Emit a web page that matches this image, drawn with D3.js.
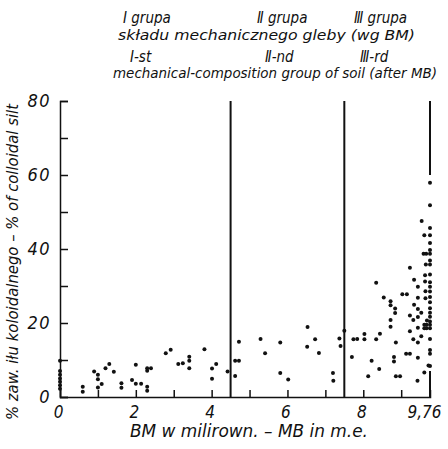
<!DOCTYPE html>
<html>
<head>
<meta charset="utf-8">
<script src="https://cdn.jsdelivr.net/npm/d3@7"></script>
<style>
  body { margin: 0; background: #fff; }
  text { font-family: "DejaVu Sans Condensed", "DejaVu Sans", sans-serif; font-style: italic; fill: #111; }
</style>
</head>
<body>
<svg width="448" height="449"></svg>
<script>
// BM (milirown.) for each sample
var bm = [
  0, 0, 0, 0, 0, 0, 0,
  0.6, 0.6, 0.9, 1.0, 1.0, 1.0, 1.1, 1.2, 1.3, 1.42, 1.62, 1.62, 1.9, 2.0, 2.0, 2.14,
  2.3, 2.3, 2.3, 2.3, 2.4, 2.79, 2.92, 3.12, 3.24, 3.41, 3.41, 3.41, 3.81, 4.01, 4.01, 4.12, 4.42,
  4.62, 4.62, 4.72, 4.72, 5.29, 5.41, 5.81, 5.81, 6.02, 6.53, 6.52, 6.73, 6.83, 7.2, 7.21, 7.37, 7.4, 7.5,
  7.7, 7.74, 7.84, 8.03, 8.03, 8.13, 8.22, 8.34, 8.34, 8.42, 8.44, 8.54, 8.72, 8.72, 8.84, 8.84, 8.72, 8.72,
  9.03, 9.15, 9.23, 9.34, 9.44, 9.44, 9.44, 9.53, 9.32, 9.44, 9.23, 9.44, 9.32, 9.44, 9.53, 8.86, 8.81, 8.81,
  9.13, 9.23, 9.44, 8.86, 8.97, 9.43, 9.61, 9.64, 9.64, 9.23, 9.34, 9.54, 9.61, 9.59, 9.66, 9.65, 9.63, 9.63,
  9.68, 9.61, 9.61, 9.67, 9.67, 9.72,
  9.76, 9.76, 9.76, 9.76, 9.76, 9.76, 9.76, 9.76, 9.76, 9.76, 9.76, 9.76, 9.76, 9.76, 9.76, 9.76, 9.76,
  9.76, 9.76, 9.76, 9.76, 9.76, 9.76, 9.76, 9.76
]
// % of colloidal silt for each sample
var silt = [
  9.8, 7.0, 6.0, 5.0, 4.1, 3.2, 2.2,
  2.8, 1.4, 6.9, 6.0, 4.8, 2.6, 3.5, 7.8, 8.9, 6.8, 3.7, 2.5, 4.6, 8.7, 3.6, 3.6,
  7.8, 7.1, 2.8, 1.7, 7.8, 11.8, 12.8, 8.9, 9.1, 10.9, 9.8, 7.8, 12.9, 7.7, 4.9, 8.9, 6.9,
  9.8, 5.7, 9.8, 14.9, 15.7, 11.8, 14.7, 6.5, 4.7, 18.9, 13.6, 15.6, 11.9, 6.5, 4.4, 15.8, 13.8, 17.9,
  10.8, 15.6, 15.7, 17.0, 15.6, 5.6, 9.8, 15.6, 30.9, 7.6, 17.1, 26.9, 25.9, 24.8, 23.9, 22.7, 20.8, 19.0,
  27.8, 27.8, 22.0, 24.9, 29.8, 26.8, 23.8, 22.8, 20.8, 21.6, 17.8, 18.7, 15.6, 14.7, 16.4, 14.7, 10.8, 9.6,
  11.7, 11.7, 10.6, 5.6, 5.6, 4.4, 6.6, 28.6, 26.7, 34.9, 31.7, 47.6, 43.7, 38.7, 38.7, 35.8, 32.9, 31.2,
  20.7, 19.5, 18.6, 19.5, 18.6, 8.5,
  57.9, 51.8, 45.7, 43.7, 41.6, 39.7, 38.7, 36.9, 35.8, 33.1, 31.0, 29.8, 28.5, 27.0, 25.6, 24.0, 22.8,
  21.7, 20.4, 19.5, 18.6, 15.7, 12.7, 11.7, 8.4
]
var groupBounds = [4.5, 7.5]
var xTicks = [0, 2, 4, 6, 8, 9.76]
var yTicks = [0, 20, 40, 60, 80]

var svg = d3.select('svg')
var x = d3.scaleLinear().domain([0, 9.76]).range([60, 430])
var y = d3.scaleLinear().domain([0, 80]).range([397, 101])

// minor ticks, no labels
svg.append('g')
    .attr('transform', 'translate(0,' + y(0) + ')')
    .call(d3.axisBottom(x).tickValues(d3.range(0, 10)).tickSize(-7).tickFormat(''))
svg.append('g')
    .attr('transform', 'translate(' + x(0) + ',0)')
    .call(d3.axisLeft(y).tickValues(d3.range(0, 81, 10)).tickSize(-8).tickFormat(''))

// labels
var xl = svg.append('g')
    .attr('transform', 'translate(0,' + y(0) + ')')
    .call(d3.axisBottom(x).tickValues(xTicks).tickSize(0).tickPadding(9)
        .tickFormat(function(d){ return d === 9.76 ? '9,76' : d }))
xl.select('.domain').remove()
xl.selectAll('text').attr('font-size', 17).attr('dx', function(d){ return d === 9.76 ? -6 : -2 })

var yl = svg.append('g')
    .attr('transform', 'translate(' + x(0) + ',0)')
    .call(d3.axisLeft(y).tickValues(yTicks).tickSize(0).tickPadding(9))
yl.select('.domain').remove()
yl.selectAll('text').attr('font-size', 18).attr('letter-spacing', 1.5)

svg.selectAll('.domain, .tick line').attr('stroke', '#111').attr('stroke-width', 1.5)

// group boundaries
svg.selectAll('.bound')
    .data(groupBounds)
    .enter()
    .append('line')
    .attr('x1', function(d){ return x(d) })
    .attr('x2', function(d){ return x(d) })
    .attr('y1', y(0))
    .attr('y2', y(80))
    .attr('stroke', '#111')
    .attr('stroke-width', 2)

// right edge pieces at 9.76
svg.selectAll('.edge')
    .data([[60, 80], [0, 7]])
    .enter()
    .append('line')
    .attr('x1', x(9.76))
    .attr('x2', x(9.76))
    .attr('y1', function(d){ return y(d[0]) })
    .attr('y2', function(d){ return y(d[1]) })
    .attr('stroke', '#111')
    .attr('stroke-width', 2)

svg.selectAll('circle')
    .data(bm)
    .enter()
    .append('circle')
    .attr('cx', function(d){ return x(d) })
    .attr('cy', function(d, i){ return y(silt[i]) })
    .attr('r', 2)
    .attr('fill', '#111')

// titles
svg.append('text')
    .attr('transform', 'translate(18,262) rotate(-90)')
    .attr('text-anchor', 'middle')
    .attr('font-size', 16)
    .attr('textLength', 316)
    .attr('lengthAdjust', 'spacingAndGlyphs')
    .text('% zaw. iłu koloidalnego – % of colloidal silt')

svg.append('text')
    .attr('x', 130).attr('y', 437)
    .attr('font-size', 17)
    .attr('textLength', 238)
    .attr('lengthAdjust', 'spacingAndGlyphs')
    .text('BM w milirown. – MB in m.e.')

// long header lines get stretched to the reference width, short ones keep natural width
var head = [
    ['Ⅰ grupa', 123, 23, 0], ['Ⅱ grupa', 257, 23, 0], ['Ⅲ grupa', 354, 23, 0],
    ['składu mechanicznego gleby (wg BM)', 118, 40, 297],
    ['Ⅰ-st', 130, 62, 0], ['Ⅱ-nd', 265, 62, 0], ['Ⅲ-rd', 360, 62, 0],
    ['mechanical-composition group of soil (after MB)', 113, 78, 324]
]
var ht = svg.selectAll('.head')
    .data(head)
    .enter()
    .append('text')
    .attr('x', function(d){ return d[1] })
    .attr('y', function(d){ return d[2] })
    .attr('font-size', function(d){ return d[3] ? 14 : 15 })
    .text(function(d){ return d[0] })
ht.filter(function(d){ return d[3] })
    .attr('textLength', function(d){ return d[3] })
    .attr('lengthAdjust', 'spacingAndGlyphs')
</script>
</body>
</html>
